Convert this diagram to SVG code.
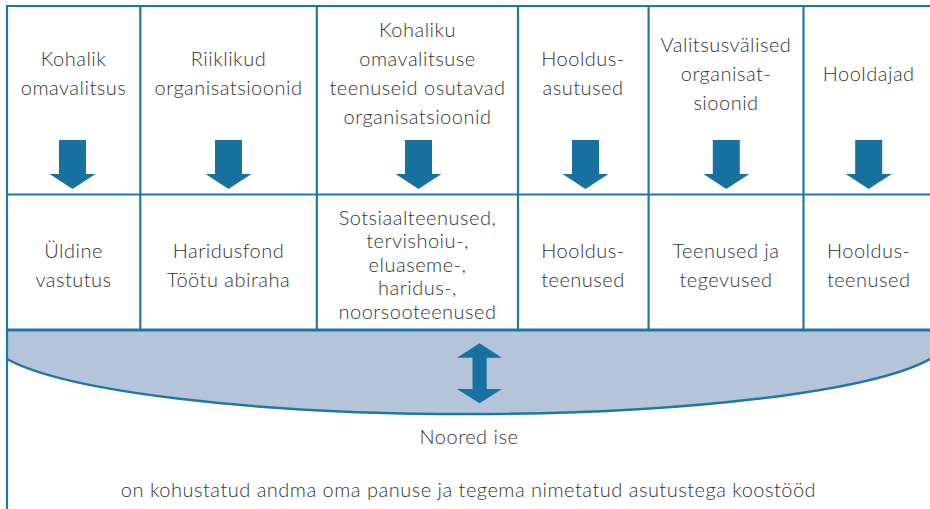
<svg xmlns="http://www.w3.org/2000/svg" xmlns:xlink="http://www.w3.org/1999/xlink" width="930" height="509" viewBox="0 0 930 509">
<style>
  .grid { stroke: #1f77a6; stroke-width: 2.2; fill: none; }
  .lbl { font-family: "Lato", "Liberation Sans", sans-serif; font-size: 20px; font-weight: 300; letter-spacing: 0.5px; fill: #333333; text-anchor: middle; }
  .arw { fill: #17729f; }
</style>
<defs>
  <polygon id="down" points="-13.5,140 13.5,140 13.5,174 23,174 0,189 -23,174 -13.5,174"/>
</defs>
<rect width="930" height="509" fill="#ffffff"/>
<g id="bowl">
  <path d="M7,330 L7,359 A480,76 0 0 0 930,359 L930,330 Z" fill="#b4c5da"/>
  <path d="M7,359 A480,76 0 0 0 930,359" fill="none" stroke="#1f77a6" stroke-width="2.5"/>
</g>
<g id="grid" class="grid">
  <line x1="7" y1="6" x2="930" y2="6"/>
  <line x1="7" y1="194.5" x2="930" y2="194.5"/>
  <line x1="7" y1="330" x2="930" y2="330" stroke-width="3"/>
  <line x1="7" y1="5" x2="7" y2="509"/>
  <line x1="140.3" y1="6" x2="140.3" y2="330"/>
  <line x1="316.8" y1="6" x2="316.8" y2="330"/>
  <line x1="518" y1="6" x2="518" y2="330"/>
  <line x1="648.6" y1="6" x2="648.6" y2="330"/>
  <line x1="803.5" y1="6" x2="803.5" y2="330"/>
</g>
<g id="n1" class="lbl"><text x="73.5" y="66">Kohalik</text><text x="73.5" y="95">omavalitsus</text></g>
<g id="n2" class="lbl"><text x="228.5" y="66">Riiklikud</text><text x="228.5" y="95">organisatsioonid</text></g>
<g id="n3" class="lbl"><text x="417.5" y="37">Kohaliku</text><text x="417.5" y="66">omavalitsuse</text><text x="417.5" y="95">teenuseid osutavad</text><text x="417.5" y="124">organisatsioonid</text></g>
<g id="n4" class="lbl"><text x="583" y="66">Hooldus-</text><text x="583" y="95">asutused</text></g>
<g id="n5" class="lbl"><text x="726" y="52">Valitsusvälised</text><text x="726" y="81">organisat-</text><text x="726" y="110">sioonid</text></g>
<g id="n6" class="lbl"><text x="868.7" y="81">Hooldajad</text></g>
<g id="m1" class="lbl"><text x="73.5" y="258">Üldine</text><text x="73.5" y="287">vastutus</text></g>
<g id="m2" class="lbl"><text x="228.5" y="258">Haridusfond</text><text x="228.5" y="287">Töötu abiraha</text></g>
<g id="m3" class="lbl"><text x="417.5" y="224.5">Sotsiaalteenused,</text><text x="417.5" y="248">tervishoiu-,</text><text x="417.5" y="271.5">eluaseme-,</text><text x="417.5" y="295">haridus-,</text><text x="417.5" y="318.5">noorsooteenused</text></g>
<g id="m4" class="lbl"><text x="583" y="258">Hooldus-</text><text x="583" y="287">teenused</text></g>
<g id="m5" class="lbl"><text x="726" y="258">Teenused ja</text><text x="726" y="287">tegevused</text></g>
<g id="m6" class="lbl"><text x="868.7" y="258">Hooldus-</text><text x="868.7" y="287">teenused</text></g>
<g id="youth" class="lbl"><text x="469" y="444">Noored ise</text><text x="468.5" y="497">on kohustatud andma oma panuse ja tegema nimetatud asutustega koostööd</text></g>
<g id="connectors" class="arw">
  <use xlink:href="#down" x="72.5"/>
  <use xlink:href="#down" x="228.5"/>
  <use xlink:href="#down" x="418.5"/>
  <use xlink:href="#down" x="585.5"/>
  <use xlink:href="#down" x="726.3"/>
  <use xlink:href="#down" x="868.7"/>
  <polygon points="479.5,343.3 502,357.7 486.7,357.7 486.7,389 502,389 479.5,403.3 457,389 472.5,389 472.5,357.7 457,357.7"/>
</g>
</svg>
